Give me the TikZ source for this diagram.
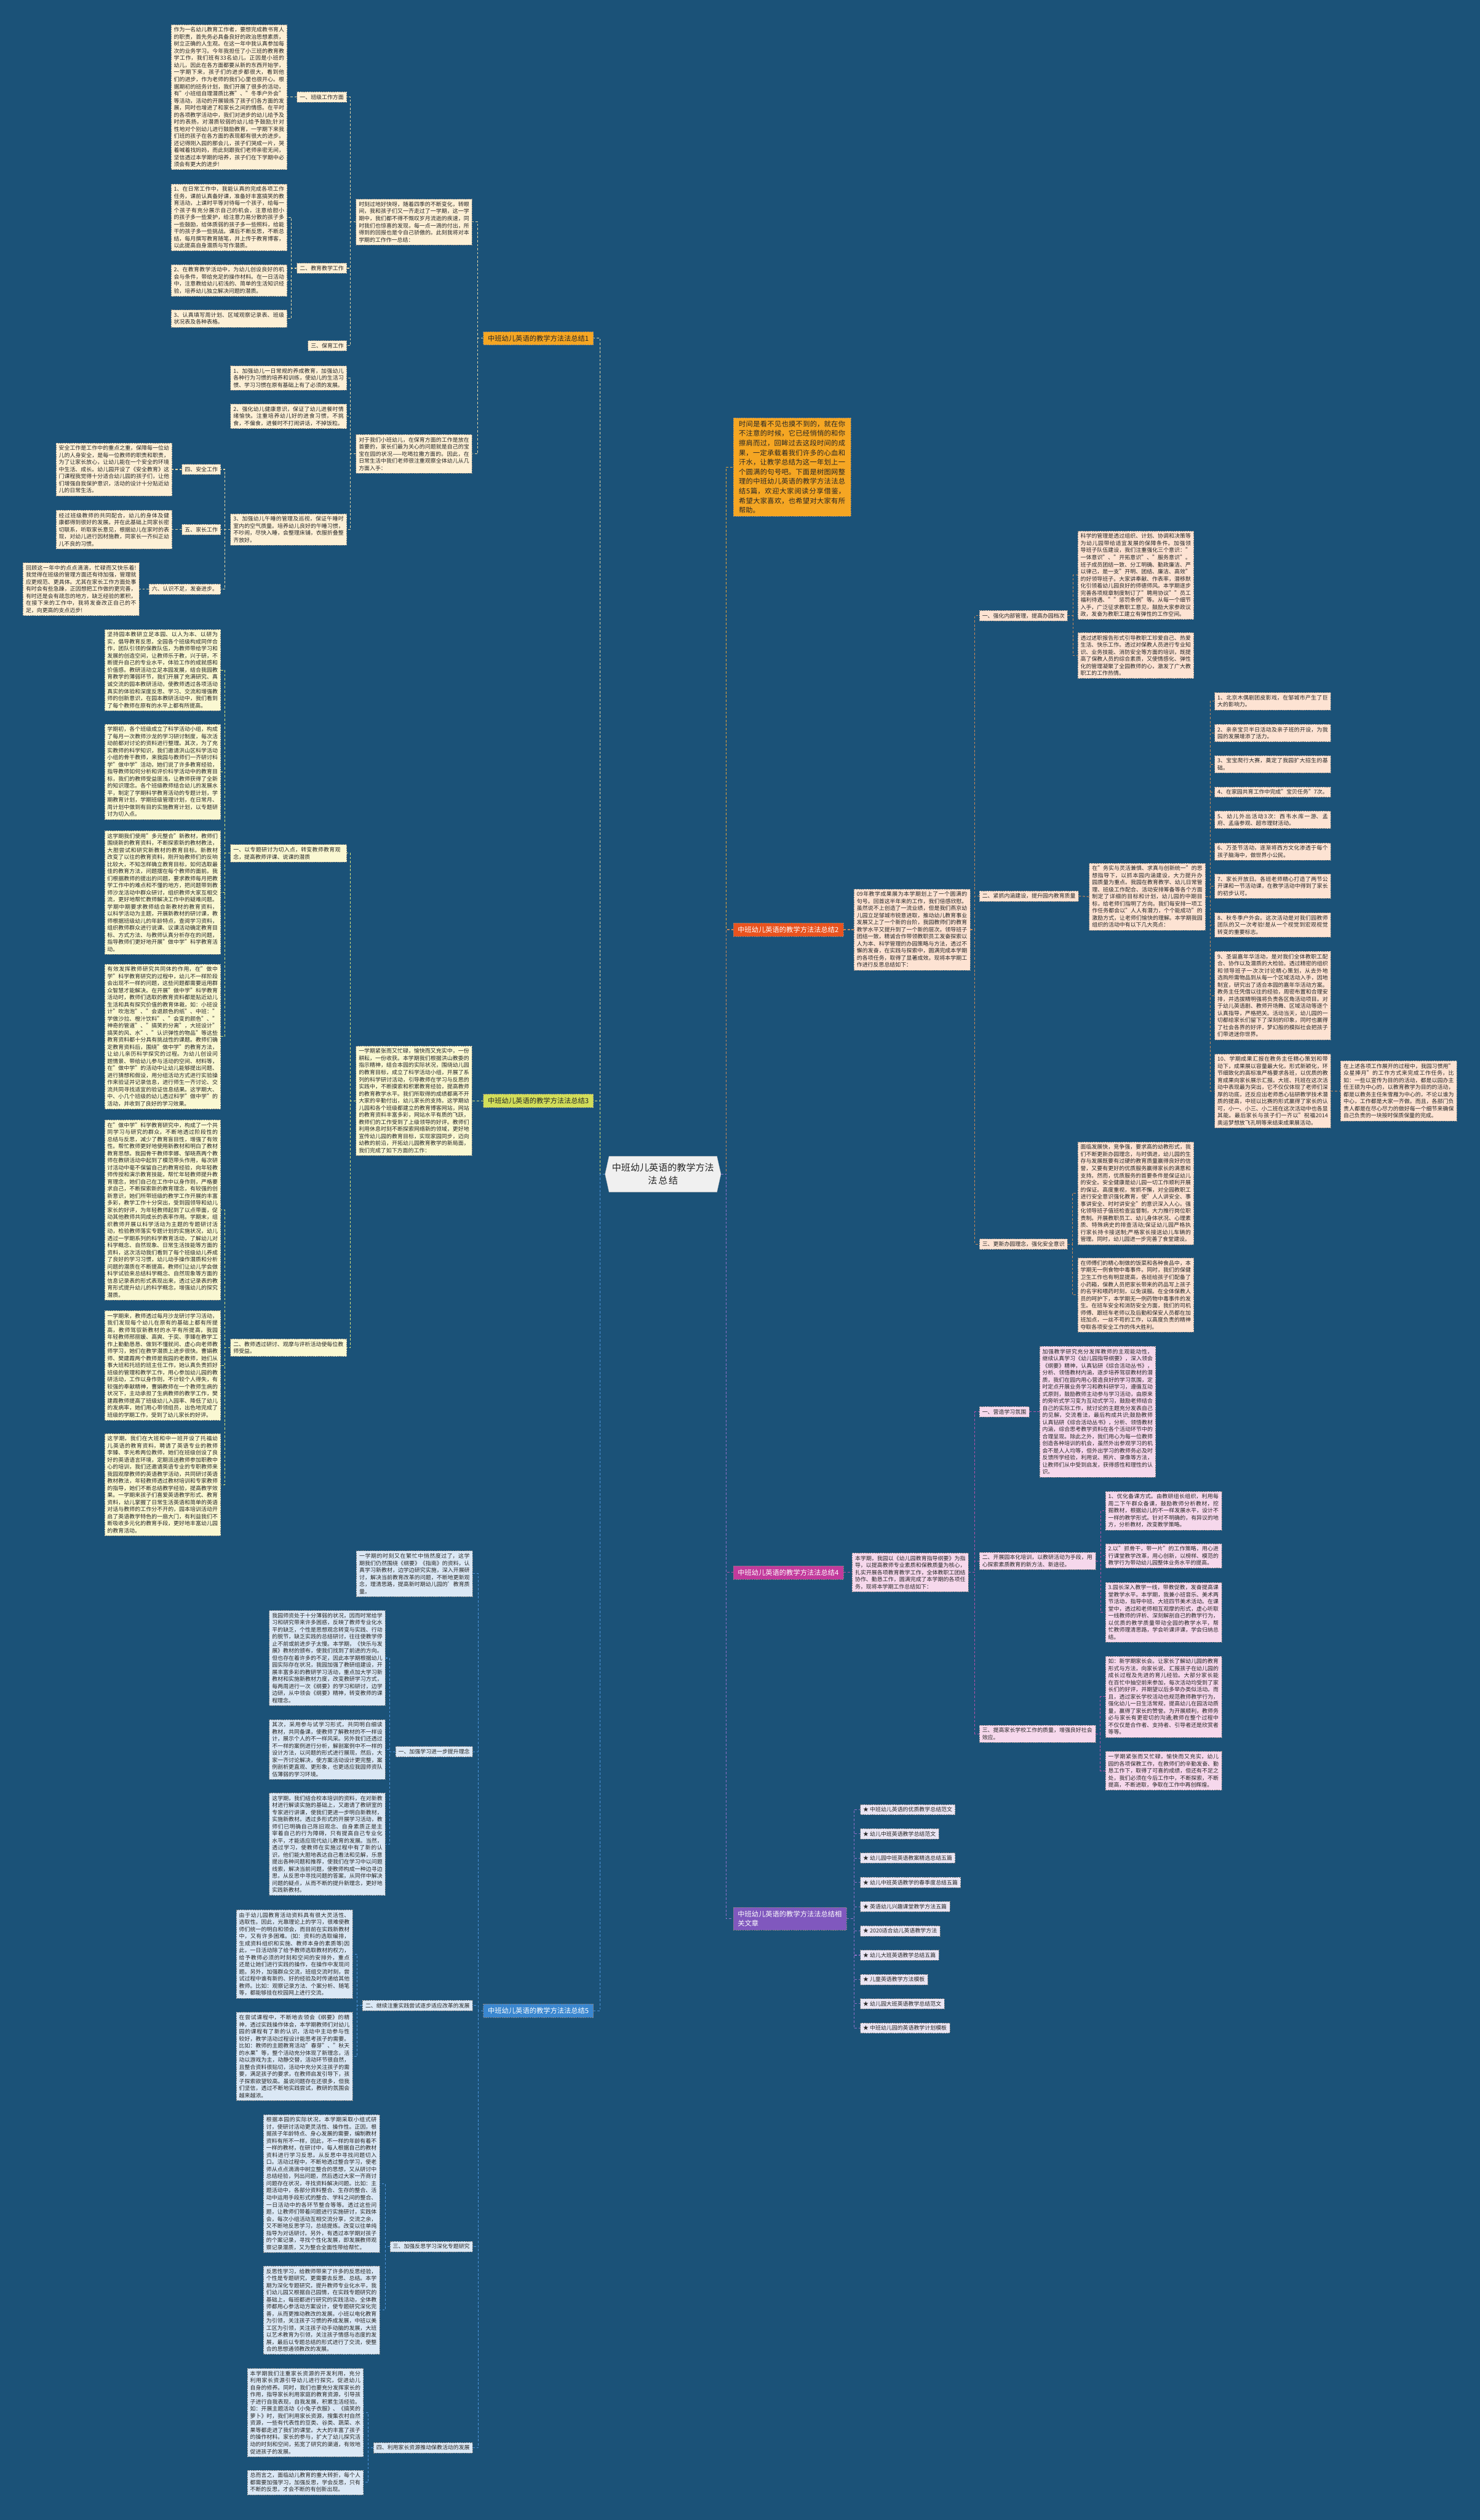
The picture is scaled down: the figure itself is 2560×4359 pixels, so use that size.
\documentclass[tikz,border=0pt]{standalone}
\usepackage{fontspec}
\setmainfont{Noto Sans CJK SC}
\XeTeXlinebreaklocale "zh"
\XeTeXlinebreakskip = 0pt plus 1pt
\usetikzlibrary{shapes.symbols}
\definecolor{bgblue}{RGB}{27,82,120}
\definecolor{fillA}{HTML}{FDF0D6}
\definecolor{fillC}{HTML}{FAF8D2}
\definecolor{fillE}{HTML}{DBE8F5}
\definecolor{fillB}{HTML}{FDE3D3}
\definecolor{fillD}{HTML}{F6D8EC}
\definecolor{fillF}{HTML}{EAE5F3}
\definecolor{brA}{HTML}{F5A623}
\definecolor{brC}{HTML}{D2DE5A}
\definecolor{brE}{HTML}{3A87D0}
\definecolor{brB}{HTML}{E8531F}
\definecolor{brD}{HTML}{C23A9C}
\definecolor{brF}{HTML}{8058BE}
\definecolor{lnA}{HTML}{E3D5A6}
\definecolor{lnC}{HTML}{D9E27A}
\definecolor{lnE}{HTML}{4D93D9}
\definecolor{lnB}{HTML}{C8885A}
\definecolor{lnD}{HTML}{B552A8}
\definecolor{lnF}{HTML}{9270C8}
\definecolor{lnI}{HTML}{E6A33A}
\newcommand{\cnsmall}{\fontsize{9.5pt}{12.25pt}\selectfont}
\newcommand{\cnmid}{\fontsize{12pt}{16.6pt}\selectfont}
\newcommand{\cnbig}{\fontsize{16pt}{22pt}\selectfont}

\begin{document}
\begin{tikzpicture}[x=1pt, y=-1pt,
  box/.style={draw=black!50, dash pattern=on 2.5pt off 1.5pt, line width=0.6pt,
              inner xsep=5pt, inner ysep=4.5pt, font=\cnsmall, text=black!85},
  para/.style={box, text width=191pt, align=justify},
  lab/.style={box, align=left},
  branch/.style={draw=black!50, dash pattern=on 2.5pt off 1.5pt, line width=0.6pt,
                 inner xsep=8pt, inner ysep=6pt, font=\cnmid},
  con/.style={dash pattern=on 4pt off 3pt, line width=1.1pt},
  kA/.style={fill=fillA}, kB/.style={fill=fillB}, kC/.style={fill=fillC},
  kD/.style={fill=fillD}, kE/.style={fill=fillE}, kF/.style={fill=fillF}
]
  \useasboundingbox (0,0) rectangle (2560,4359);
  \fill[bgblue] (0,0) rectangle (2560,4359);

  % Centre
  \node[shape=signal, signal to=west and east, signal pointer angle=155,
        fill=black!6, draw=black!25, text width=180pt, align=center,
        minimum height=62pt, font=\cnbig, text=black!85] (ctr) at (1147,2031)
        {中班幼儿英语的教学方法\\法总结};

  % Branch 1
  \node[branch, fill=brA, text=black!85, anchor=east] (b1) at (1027,585) {中班幼儿英语的教学方法法总结1};
  \node[para, kA, anchor=east] (b1i) at (817,384) {时刻过地好快呀，随着四季的不断变化，转眼间，我和孩子们又一齐走过了一学期，这一学期中，我们都不得不慨叹岁月流逝的疾速，同时我们也惊喜的发现，每一点一滴的付出，所得到的回报也是令自己骄傲的。此刻我将对本学期的工作作一总结：};
  \node[lab, kA, anchor=east] (l11) at (600,168) {一、班级工作方面};
  \node[para, kA, anchor=east] (p11) at (497,168) {作为一名幼儿教育工作者，要想完成教书育人的职责，首先务必具备良好的政治思想素质，树立正确的人生观。在这一年中我认真参加每次的业务学习。今年我担任了小三班的教育教学工作，我们班有33名幼儿，正因是小班的幼儿，因此在各方面都要从新的东西开始学，一学期下来，孩子们的进步都很大，看到他们的进步，作为老师的我们心里也很开心。根据期初的班务计划，我们开展了很多的活动，有"小班组自理潜质比赛"、"冬季户外会"等活动，活动的开展锻炼了孩子们各方面的发展，同时也增进了和家长之间的情感。在平时的各项教学活动中，我们对进步的幼儿给予及时的表扬，对潜质较弱的幼儿给予鼓励;针对性地对个别幼儿进行鼓励教育，一学期下来我们班的孩子在各方面的表现都有很大的进步。还记得刚入园的那会儿，孩子们哭成一片，哭着喊着找妈妈，而此刻跟我们老师亲密无间，坚信透过本学期的培养，孩子们在下学期中必须会有更大的进步!};
  \node[lab, kA, anchor=east] (l12) at (600,464) {二、教育教学工作};
  \node[para, kA, anchor=east] (p121) at (497,376) {1、在日常工作中，我能认真的完成各项工作任务，课前认真备好课，准备好丰富搞笑的教育活动，上课时平等对待每一个孩子，给每一个孩子有充分展示自己的机会，注意给胆小的孩子多一些爱护，给注意力易分散的孩子多一些鼓励，给体质弱的孩子多一些照料，给能干的孩子多一些挑战。课后不断反思，不断总结，每月撰写教育随笔，并上传于教育博客，以此提高自身潜质与写作潜质。};
  \node[para, kA, anchor=east] (p122) at (497,485) {2、在教育教学活动中，为幼儿创设良好的机会与条件，带给充足的操作材料。在一日活动中，注意教给幼儿初浅的、简单的生活知识经验，培养幼儿独立解决问题的潜质。};
  \node[para, kA, anchor=east] (p123) at (497,551) {3、认真填写周计划、区域观察记录表、班级状况表及各种表格。};
  \node[lab, kA, anchor=east] (l13) at (600,598) {三、保育工作};
  \node[para, kA, anchor=east] (b1j) at (817,785) {对于我们小班幼儿，在保育方面的工作是放在首要的，家长们最为关心的问题就是自己的宝宝在园的状况——吃喝拉撒方面的。因此，在日常生活中我们老师很注重观察全体幼儿从几方面入手：};
  \node[para, kA, anchor=east] (p131) at (600,654) {1、加强幼儿一日常规的养成教育，加强幼儿各种行为习惯的培养和训练，使幼儿的生活习惯、学习习惯在原有基础上有了必须的发展。};
  \node[para, kA, anchor=east] (p132) at (600,720) {2、强化幼儿健康意识，保证了幼儿进餐时情绪愉快。注重培养幼儿好的进食习惯，不挑食，不偏食，进餐时不打闹讲话，不掉饭粒。};
  \node[para, kA, anchor=east] (p133) at (600,916) {3、加强幼儿午睡的管理及巡视，保证午睡时室内的空气质量。培养幼儿良好的午睡习惯，不吵闹，尽快入睡，会整理床铺，衣服折叠整齐放好。};
  \node[lab, kA, anchor=east] (l14) at (382,812) {四、安全工作};
  \node[para, kA, anchor=east] (p14) at (298,812) {安全工作是工作中的重点之重，保障每一位幼儿的人身安全，是每一位教师的职责和职责，为了让家长放心，让幼儿能在一个安全的环境中生活、成长。幼儿园开设了《安全教育》这门课程我觉得十分适合幼儿园的孩子们，让他们增强自我保护意识，活动的设计十分贴近幼儿的日常生活。};
  \node[lab, kA, anchor=east] (l15) at (382,916) {五、家长工作};
  \node[para, kA, anchor=east] (p15) at (298,916) {经过班级教师的共同配合，幼儿的身体及健康都得到很好的发展。并在此基础上同家长密切联系，听取家长意见，根据幼儿在家时的表现，对幼儿进行因材施教，同家长一齐纠正幼儿不良的习惯。};
  \node[lab, kA, anchor=east] (l16) at (382,1019) {六、认识不足，发奋进步。};
  \node[para, kA, anchor=east] (p16) at (241,1019) {回顾这一年中的点点滴滴，忙碌而又快乐着!我觉得在班级的管理方面还有待加强，管理就应更规范、更具体。尤其在家长工作方面处事有时会有些急躁，正因想把工作做的更完善，有时还是会有疏忽的地方，缺乏经验的累积，在接下来的工作中，我将发奋改正自己的不足，向更高的支点迈步!};

  \draw[con, lnA] (ctr.west) -- ++(-8,0) |- (b1.east);
  \foreach \c in {b1i,b1j} \draw[con, lnA] (b1.west) -- ++(-9,0) |- (\c.east);
  \foreach \c in {l11,l12,l13} \draw[con, lnA] (b1i.west) -- ++(-9,0) |- (\c.east);
  \draw[con, lnA] (l11.west) -- (p11.east);
  \foreach \c in {p121,p122,p123} \draw[con, lnA] (l12.west) -- ++(-9,0) |- (\c.east);
  \foreach \c in {p131,p132,p133} \draw[con, lnA] (b1j.west) -- ++(-9,0) |- (\c.east);
  \foreach \c in {l14,l15,l16} \draw[con, lnA] (p133.west) -- ++(-9,0) |- (\c.east);
  \draw[con, lnA] (l14.west) -- (p14.east);
  \draw[con, lnA] (l15.west) -- (p15.east);
  \draw[con, lnA] (l16.west) -- (p16.east);

  % Branch 3
  \node[branch, fill=brC, text=black!85, anchor=east] (b3) at (1027,1904) {中班幼儿英语的教学方法法总结3};
  \node[para, kC, anchor=east] (b3i) at (817,1904) {一学期紧张而又忙碌，愉快而又充实中，一份耕耘，一份收获。本学期我们根据洪山教委的指示精神，结合本园的实际状况，围绕幼儿园的教育目标，成立了科学活动小组，开展了系列的科学研讨活动，引导教师在学习与反思的实践中，不断摸索和积累教育经验，提高教师的教育教学水平。我们所取得的成绩都离不开大家的辛勤付出，幼儿家长的支持。这学期幼儿园和各个班级都建立的教育博客网站，网站的教育资料丰富多彩，网站水平有质的飞跃，教师们的工作受到了上级领导的好评。教师们利用休息时刻不断探索网络新的领域，更好地宣传幼儿园的教育目标，实现家园同步，迈向幼教的前沿，开拓幼儿园教育教学的新局面，我们完成了如下方面的工作：};
  \node[lab, kC, text width=191pt, anchor=east] (l31) at (600,1476) {一、以专题研讨为切入点，转变教师教育观念，提高教师评课、说课的潜质};
  \node[para, kC, anchor=east] (p311) at (382,1159) {坚持园本教研立足本园、以人为本、以研为实，倡导教育反思，全园各个班级构成同伴合作，团队引领的保教队伍，为教师带给学习和发展的创造空间，让教师乐于教，兴于研，不断提升自己的专业水平，体验工作的成就感和价值感。教研活动立足本园发展，结合我园教育教学的薄弱环节，我们开展了充满研究、真诚交流的园本教研活动，使教师透过各项活动真实的体验和深度反思、学习、交流和增强教师的创新意识，在园本教研活动中，我们看到了每个教师在原有的水平上都有所提高。};
  \node[para, kC, anchor=east] (p312) at (382,1335) {学期初，各个班级成立了科学活动小组，构成了每月一次教师沙龙的学习研讨制度，每次活动前都对讨论的资料进行整理。其次，为了充实教师的科学知识，我们邀请洪山区科学活动小组的骨干教师，来我园与教师们一齐研讨科学"做中学"活动，她们说了许多教育经验，指导教师如何分析和评价科学活动中的教育目标，我们的教师受益匪浅，让教师获得了全新的知识理念。各个班级教师结合幼儿的发展水平，制定了学期科学教育活动的专题计划，学期教育计划，学期班级管理计划，在日常月、周计划中做到有目的实施教育计划，以专题研讨为切入点。};
  \node[para, kC, anchor=east] (p313) at (382,1544) {这学期我们使用"多元整合"新教材，教师们围绕新的教育资料，不断探索新的教材教法，大胆尝试和研究新教材的教育目标。新教材改变了以往的教育资料，刚开始教师们的反响比较大，不知怎样确立教育目标，如何选取最佳的教育方法，问题摆在每个教师的面前。我们根据教师的提出的问题，要求教师每月把教学工作中的难点和不懂的地方，把问题带到教师沙龙活动中群众研讨，组织教师大家互相交流，更好地帮忙教师解决工作中的疑难问题。学期中期要求教师结合新教材的教育资料，以科学活动为主题，开展新教材的研讨课，教师根据班级幼儿的年龄特点，查阅学习资料，组织教师群众进行说课、议课活动确定教育目标、方式方法、与教师认真分析存在的问题，指导教师们更好地开展"做中学"科学教育活动。};
  \node[para, kC, anchor=east] (p314) at (382,1793) {有效发挥教师研究共同体的作用，在"做中学"科学教育研究的过程中，幼儿不一样阶段会出现不一样的问题，这些问题都需要运用群众智慧才能解决。在开展"做中学"科学教育活动时，教师们选取的教育资料都是贴近幼儿生活和具有探究价值的教育体裁，如：小班设计"吹泡泡"、"会退颜色的纸"、中班："学做沙拉、橙汁饮料"、"会变的颜色"、"神奇的管道"、"搞笑的分离"，大班设计"搞笑的风、水"、"认识弹性的物品"等这些教育资料都十分具有挑战性的课题。教师们确定教育资料后，围绕"做中学"的教育方法，让幼儿亲历科学探究的过程。为幼儿创设问题情景、带给幼儿参与活动的空间、材料等，在"做中学"的活动中让幼儿能够提出问题、进行猜想和假设，用分组活动方式进行实验操作来验证并记录信息，进行师生一齐讨论、交流共同寻找适宜的验证信息结果。这学期大、中、小几个班级的幼儿透过科学"做中学"的活动，并收到了良好的学习效果。};
  \node[lab, kC, text width=191pt, anchor=east] (l32) at (600,2331) {二、教师透过研讨、观摩与评析活动使每位教师受益。};
  \node[para, kC, anchor=east] (p321) at (382,2093) {在"做中学"科学教育研究中，构成了一个共同学习与研究的群众，不断地透过阶段性的总结与反思，减少了教育盲目性，增强了有效性。帮忙教师更好地使用新教材和明白了教材教育思想。我园骨干教师李娜、邹晓燕两个教师在教研活动中起到了模范带头作用，每次研讨活动中毫不保留自己的教育经验，向年轻教师传授和演示教育技能，帮忙年轻教师提升教育理念，她们自己在工作中以身作则，严格要求自己，不断探索新的教育理念，有较强的创新意识，她们所带班级的教学工作开展的丰富多彩，教学工作十分突出，受到园领导和幼儿家长的好评，为年轻教师起到了以点带面，促动其他教师共同成长的表率作用。学期末，组织教师开展以科学活动为主题的专题研讨活动，检验教师落实专题计划的实施状况，幼儿透过一学期系列的科学教育活动，了解幼儿对科学概念、自然现象、日常生活技能等方面的资料，这次活动我们看到了每个班级幼儿养成了良好的学习习惯，幼儿动手操作潜质和分析问题的潜质在不断提高，教师们让幼儿学会做科学试验来总结科学概念、自然现象等方面的信息记录表的形式表现出来，透过记录表的教育形式提升幼儿的科学概念，增强幼儿的探究潜质。};
  \node[para, kC, anchor=east] (p322) at (382,2362) {一学期来，教师透过每月沙龙研讨学习活动，我们发现每个幼儿在原有的基础上都有所提高，教师驾驭新教材的水平有所提高，我园年轻教师邢丽媛、高爽、于奕、李臻在教学工作上勤勤恳恳、做到不懂就问、虚心向老师教师学习，她们在教学潜质上进步很快。曹娟教师、樊建霞两个教师是我园的老教师，她们从事大班和托班的班主任工作，她认真负责抓好班级的管理和教学工作，用心参加幼儿园的教研活动，工作以身作则，不计较个人得失，有较强的奉献精神，曹娟教师在一个教师生病的状况下，主动承担了生病教师的教学工作，樊建霞教师提高了班级幼儿入园率、降低了幼儿的发病率，她们用心带领组员，出色地完成了班级的学期工作，受到了幼儿家长的好评。};
  \node[para, kC, anchor=east] (p323) at (382,2568) {这学期，我们在大班和中一班开设了托福幼儿英语的教育资料，聘请了英语专业的教师李臻、李光希两位教师，她们在班级创设了良好的英语语言环境，定期派送教师参加职教中心的培训，我们还邀请英语专业的专职教师来我园观摩教师的英语教学活动，共同研讨英语教材教法，年轻教师透过教材培训和专家教师的指导，她们不断总结教学经验，提高教学效果。一学期来孩子们喜爱英语教学形式、教育资料，幼儿掌握了日常生活英语和简单的英语对话与教师的工作分不开的，园本培训活动开启了英语教学特色的一扇大门，有利益我们不断吸收多元化的教育手段，更好地丰富幼儿园的教育活动。};

  \draw[con, lnC] (ctr.west) -- ++(-8,0) |- (b3.east);
  \draw[con, lnC] (b3.west) -- (b3i.east);
  \foreach \c in {l31,l32} \draw[con, lnC] (b3i.west) -- ++(-9,0) |- (\c.east);
  \foreach \c in {p311,p312,p313,p314} \draw[con, lnC] (l31.west) -- ++(-9,0) |- (\c.east);
  \foreach \c in {p321,p322,p323} \draw[con, lnC] (l32.west) -- ++(-9,0) |- (\c.east);

  % Branch 5
  \node[branch, fill=brE, text=white, anchor=east] (b5) at (1027,3478) {中班幼儿英语的教学方法法总结5};
  \node[para, kE, anchor=east] (b5i) at (818,2722) {一学期的时刻又在繁忙中悄然度过了，这学期我们仍然围绕《纲要》《指南》的资料，认真学习新教材，边学边研究实施，深入开展研讨，解决当前教育改革的问题，不断地更新观念，理清思路，提高新时期幼儿园的'教育质量。};
  \node[lab, kE, anchor=east] (l51) at (818,3030) {一、加强学习进一步提升理念};
  \node[para, kE, anchor=east] (p511) at (667,2868) {我园师资处于十分薄弱的状况，因而时常给学习和研究带来许多困惑，反映了教师专业化水平的缺乏，个性是思想观念转变与实践、行动的脱节，缺乏实践的总结研讨，往往使教学停止不前或前进步子太慢。本学期，《快乐与发展》教材的颁布，使我们找到了前进的方向。但也存在着许多的不足，因此本学期根据幼儿园实际存在状况，我园加强了教研组建设，开展丰富多彩的教研学习活动，重点加大学习新教材和实施新教材力度，改变教研学习方式，每两周进行一次《纲要》的学习和研讨，边学边研，从中领会《纲要》精神，转变教师的课程理念。};
  \node[para, kE, anchor=east] (p512) at (667,3026) {其次，采用参与试学习形式，共同明白细读教材，共同备课，使教师了解教材的不一样设计，展示个人的不一样风采。另外我们还透过不一样的案例进行分析，解剖案例中不一样的设计方法，以问题的形式进行展现，然后，大家一齐讨论解决，使方案活动设计更完整，案例剖析更直观、更形象，也更适应我园师资队伍薄弱的学习环境。};
  \node[para, kE, anchor=east] (p513) at (667,3190) {这学期，我们结合校本培训的资料，在对新教材进行解读实施的基础上，又邀请了教研室的专家进行讲课，使我们更进一步明白新教材，实施新教材。透过多形式的开展学习活动，教师们已明确自己陈旧观念、自身素质正是主宰着自己的行为障碍，只有提高自己专业化水平，才能适应现代幼儿教育的发展。当然，透过学习，使教师在实施过程中有了新的认识，他们能大胆地表达自己看法和见解，乐意提出各种问题和推荐，使我们在学习中以问题线索，解决当前问题，使教师构成一种边寻边思，从反思中寻找问题的答案，从同伴中解决问题的疑点，从而不断的提升新理念，更好地实践新教材。};
  \node[lab, kE, anchor=east] (l52) at (818,3469) {二、继续注重实践尝试逐步适应改革的发展};
  \node[para, kE, anchor=east] (p521) at (610,3380) {由于幼儿园教育活动资料具有很大灵活性、选取性。因此，光靠理论上的学习，很难使教师们统一的明白和领会，而目前在实践新教材中，又有许多困难。(如：资料的选取编排，生成资料组织和实施、教师本身的素质等)因此，一日活动除了给予教师选取教材的权力，给予教师必须的时刻和空间的安排外，重点还是让她们进行实践的操作，在操作中发现问题。另外，加强群众交流，班组交流时刻，尝试过程中谁有新的、好的经验及时传递给其他教师。比如：观察记录方法、个案分析、随笔等，都能够挂在校园网上进行交流。};
  \node[para, kE, anchor=east] (p522) at (610,3557) {在尝试课程中，不断地去领会《纲要》的精神，透过实践操作体会，本学期教师们对幼儿园的课程有了新的认识，活动中主动参与性较好，教学活动过程设计能思考孩子的需要。比如：教师的主题教育活动"春芽"、"秋天的水果"等，整个活动充分体现了新理念，活动以游戏为主，动静交替，活动环节很自然，且整合资料很贴切，活动中充分关注孩子的需要，满足孩子的要求，在教师启发引导下，孩子探索欲望较高。虽说问题存在还很多，但我们坚信，透过不断地实践尝试，教研的氛围会越来越浓。};
  \node[lab, kE, anchor=east] (l53) at (818,3886) {三、加强反思学习深化专题研究};
  \node[para, kE, anchor=east] (p531) at (657,3777) {根据本园的实际状况，本学期采取小组式研讨，使研讨活动更灵活性、操作性。正因，根据孩子年龄特点、身心发展的需要，编制教材资料有所不一样，因此，不一样的年龄有着不一样的教材，在研讨中，每人根据自己的教材资料进行学习反思，从反思中寻找问题切入口。活动过程中，不断地透过整合学习，使老师从点点滴滴中树立整合的思想，又从研讨中总结经验，列出问题，然后透过大家一齐商讨问题存在状况，寻找资料解决问题。比如：主题活动中，各部分资料整合、生存的整合、活动中运用手段形式的整合、学科之间的整合、一日活动中的各环节整合等等。透过这些问题，让教师们带着问题进行实施研讨，实践体会，每次小组活动互相交流分享，交流之余，又不断地反思学习，总结提炼。改变以往单纯指导为对话研讨。另外，有透过本学期对孩子的个案记录，寻找个性化发展，即发展教师观察记录潜质，又为整合全面性带给帮忙。};
  \node[para, kE, anchor=east] (p532) at (657,3996) {反思性学习，给教师带来了许多的反思经验，个性是专题研究，更需要去反思、总结。本学期为深化专题研究，提升教师专业化水平，我们幼儿园又根据自己园情，在实践专题研究的基础上，每班都进行研究的实践活动，全体教师都用心参活动方案设计，使专题研究深化完善，从而更推动教改的发展。小班以电化教育为引领，关注孩子习惯的养成发展，中班以美工区为引领，关注孩子动手动脑的发展，大班以艺术教育为引领，关注孩子情感与态度的发展，最后以专题总结的形式进行了交流，使整合的思想通领教改的发展。};
  \node[lab, kE, anchor=east] (l54) at (818,4234) {四、利用家长资源推动保教活动的发展};
  \node[para, kE, anchor=east] (p541) at (629,4173) {本学期我们注重家长资源的开发利用，充分利用家长资源引导幼儿进行探究，促进幼儿自身的修养。同时，我们也要充分发挥家长的作用，指导家长利用家庭的教育资源，引导孩子进行自我表现，自我发展，积累生活经验。如：开展主题活动《小兔子衣服》、《搞笑的萝卜》时，我们利用家长资源，搜集农村自然资源，一些有代表性的豆类、谷类、蔬菜、水果等都走进了我们的课堂。大大的丰富了孩子的操作材料。家长的参与，扩大了幼儿探究活动的时刻和空间，拓宽了研究的渠道，有效地促进孩子的发展。};
  \node[para, kE, anchor=east] (p542) at (629,4294) {总而言之，面临幼儿教育的重大转折，每个人都需要加强学习，加强反思，学会反思，只有不断的反思，才会不断的有创新出现。};

  \draw[con, lnE] (ctr.west) -- ++(-8,0) |- (b5.east);
  \foreach \c in {b5i,l51,l52,l53,l54} \draw[con, lnE] (b5.west) -- ++(-8,0) |- (\c.east);
  \foreach \c in {p511,p512,p513} \draw[con, lnE] (l51.west) -- ++(-10,0) |- (\c.east);
  \foreach \c in {p521,p522} \draw[con, lnE] (l52.west) -- ++(-9,0) |- (\c.east);
  \foreach \c in {p531,p532} \draw[con, lnE] (l53.west) -- ++(-8,0) |- (\c.east);
  \foreach \c in {p541,p542} \draw[con, lnE] (l54.west) -- ++(-9,0) |- (\c.east);

  % Intro
  \node[branch, fill=brA, text=black!85, text width=184pt, align=justify,
        inner xsep=10pt, inner ysep=5pt, anchor=west] (intro) at (1268,808) {时间是看不见也摸不到的，就在你不注意的时候，它已经悄悄的和你擦肩而过，回眸过去这段时间的成果，一定承载着我们许多的心血和汗水，让教学总结为这一年划上一个圆满的句号吧。下面是树图网整理的中班幼儿英语的教学方法法总结5篇，欢迎大家阅读分享借鉴，希望大家喜欢，也希望对大家有所帮助。};
  \draw[con, lnI] (ctr.east) -- ++(9,0) |- (intro.west);

  % Branch 2
  \node[branch, fill=brB, text=white, anchor=west] (b2) at (1268,1608) {中班幼儿英语的教学方法法总结2};
  \node[para, kB, anchor=west] (b2i) at (1477,1608) {09年教学成果展为本学期划上了一个圆满的句号。回首这半年来的工作，我们倍感欣慰。虽然说不上创造了一流业绩，但是我们燕京幼儿园立足邹城市锐意进取，推动幼儿教育事业发展又上了一个新的台阶，我园教师们的教育教学水平又提升到了一个新的层次。领导班子团结一致，精诚合作带领教职员工发奋探索以人为本、科学管理的办园策略与方法，透过不懈的发奋，在实践与探索中，圆满完成本学期的各项任务，取得了显著成效。现将本学期工作进行反思总结如下：};
  \node[lab, kB, anchor=west] (l21) at (1694,1065) {一、强化内部管理，提高办园档次};
  \node[para, kB, anchor=west] (p211) at (1864,995) {科学的管理是透过组织、计划、协调和决策等为幼儿园带给适宜发展的保障条件。加强领导班子队伍建设，我们注重强化三个意识："一体意识"、"开拓意识"、"服务意识"。班子成员团结一致、分工明确、勤政廉洁、严以律己，是一支"开明、团结、廉洁、高效"的好领导班子。大家讲奉献、作表率，潜移默化引领着幼儿园良好的师德师风。本学期逐步完善各项规章制度制订了"聘用协议""员工福利待遇、""惩罚条例"等。从每一个细节入手，广泛征求教职工意见，鼓励大家参政议政，发奋为教职工建立有弹性的工作空间。};
  \node[para, kB, anchor=west] (p212) at (1864,1134) {透过述职报告形式引导教职工珍爱自己、热爱生活、快乐工作。透过对保教人员进行专业知识、业务技能、消防安全等方面的培训，既提高了保教人员的综合素质，又使情感化、弹性化的管理凝聚了全园教师的心，激发了广大教职工的工作热情。};
  \node[lab, kB, anchor=west] (l22) at (1694,1550) {二、紧抓内涵建设，提升园内教育质量};
  \node[para, kB, anchor=west] (p22) at (1884,1551) {在"务实与灵活兼惧、求真与创新统一"的思想指导下，以抓本园内涵建设，大力提升办园质量为重点。我园在教育教学、幼儿日常管理、班级工作配合、活动安排筹备等各个方面制定了详细的目标和计划，幼儿园的中期目标，给老师们指明了方向。我们每安排一项工作任务都会以"人人有潜力，个个能成功"的激励方式，让老师们愉快的理解。本学期我园组织的活动中有以下几大亮点：};
  \node[para, kB, anchor=west] (q1) at (2101,1213) {1、北京木偶剧团皮影戏，在邹城市产生了巨大的影响力。};
  \node[para, kB, anchor=west] (q2) at (2101,1268) {2、亲亲宝贝半日活动及亲子班的开设，为我园的发展增添了活力。};
  \node[para, kB, anchor=west] (q3) at (2101,1322) {3、宝宝爬行大赛，奠定了我园扩大招生的基础。};
  \node[lab, kB, anchor=west] (q4) at (2101,1370) {4、在家园共育工作中完成"宝贝任务"7次。};
  \node[para, kB, anchor=west] (q5) at (2101,1418) {5、幼儿外出活动3次：西韦水库一游、孟府、孟庙参观、超市理财活动。};
  \node[para, kB, anchor=west] (q6) at (2101,1473) {6、万圣节活动，逐渐将西方文化渗透于每个孩子脑海中，做世界小公民。};
  \node[para, kB, anchor=west] (q7) at (2101,1533) {7、家长开放日。各班老师精心打造了两节公开课和一节活动课，在教学活动中得到了家长的初步认可。};
  \node[para, kB, anchor=west] (q8) at (2101,1600) {8、秋冬季户外会。这次活动是对我们园教师团队的又一次考验!是从一个视觉到宏观视觉转变的重要标志。};
  \node[para, kB, anchor=west] (q9) at (2101,1722) {9、圣诞嘉年华活动，是对我们全体教职工配合、协作以及潜质的大检验。透过精密的组织和领导班子一次次讨论精心策划，从去外地选购所需物品到从每一个区域活动入手，因地制宜，研究出了适合本园的嘉年华活动方案。教务主任凭借以往的经验，周密布置和合理安排，并选拔精明强将负责各区角活动项目。对于幼儿英语剧、教师开场舞、区域活动等逐个认真指导，严格把关。活动当天，幼儿园的一切都给家长们留下了深刻的印象，同时也赢得了社会各界的好评，梦幻般的模拟社会把孩子们带进迷你世界。};
  \node[para, kB, anchor=west] (q10) at (2101,1887) {10、学期成果汇报在教务主任精心策划和带动下，成果展以容量最大化，形式新颖化，环节细致化的高标准严格要求各班，以优质的教育成果向家长展示汇报。大班、托班在这次活动中表现最为突出，它不仅仅体现了老师们深厚的功底，还反应出老师悉心钻研教学技术潜质的提高，中班以比赛的形式赢得了家长的认可，小一、小三、小二班在这次活动中也各显其能。最后家长与孩子们一齐以"祝福2014奥运梦想放飞孔明等来结束成果展活动。};
  \node[para, kB, anchor=west] (q10c) at (2319,1887) {在上述各项工作展开的过程中，我园习惯用"众星捧月"的工作方式来完成工作任务，比如：一些以宣传为目的的活动，都是以园办主任王硕为中心的，以教育教学为目的的活动，都是以教务主任朱雪雁为中心的，不论以谁为中心，工作都是大家一齐做。而且，各部门负责人都是在尽心尽力的做好每一个细节来确保自己负责的一块按时保质保量的完成。};
  \node[lab, kB, anchor=west] (l23) at (1694,2152) {三、更新办园理念，强化安全意识};
  \node[para, kB, anchor=west] (p231) at (1864,2064) {面临发展快，竞争强，要求高的幼教形式，我们不断更新办园理念，与时俱进，幼儿园的生存与发展既要有过硬的教育质量赢得良好的信誉，又要有更好的优质服务赢得家长的满意和支持。然而，优质服务的首要条件是保证幼儿的安全。安全健康是幼儿园一切工作顺利开展的保证。高度重视，常抓不懈，对全园教职工进行安全意识强化教育，使"人人讲安全、事事讲安全、时时讲安全"的意识深入人心。强化领导班子值班检查监督制，大力推行岗位职责制。开展教职员工、幼儿身体状况、心理素质、特殊病史的排查活动;保证幼儿园严格执行家长持卡接送制;严格家长接送幼儿车辆的管理。同时，幼儿园进一步完善了食堂建设。};
  \node[para, kB, anchor=west] (p232) at (1864,2240) {在师傅们的精心制做的饭菜和各种食品中，本学期无一例食物中毒事件。同时，我们的保健卫生工作也有明显提高，各班给孩子们配备了小药箱，保教人员把家长带来的药品写上孩子的名字和喂药时刻，以免误服。在全体保教人员的呵护下，本学期无一例药物中毒事件的发生。在班车安全和消防安全方面，我们的司机师傅、跟班车老师以及后勤和保安人员都在加班加点，一丝不苟的工作，以高度负责的精神夺取各项安全工作的伟大胜利。};

  \draw[con, lnB] (ctr.east) -- ++(9,0) |- (b2.west);
  \draw[con, lnB] (b2.east) -- (b2i.west);
  \foreach \c in {l21,l22,l23} \draw[con, lnB] (b2i.east) -- ++(8,0) |- (\c.west);
  \foreach \c in {p211,p212} \draw[con, lnB] (l21.east) -- ++(9,0) |- (\c.west);
  \draw[con, lnB] (l22.east) -- (p22.west);
  \foreach \c in {q1,q2,q3,q4,q5,q6,q7,q8,q9,q10} \draw[con, lnB] (p22.east) -- ++(8,0) |- (\c.west);
  \draw[con, lnB] (q10.east) -- (q10c.west);
  \foreach \c in {p231,p232} \draw[con, lnB] (l23.east) -- ++(8,0) |- (\c.west);

  % Branch 4
  \node[branch, fill=brD, text=white, anchor=west] (b4) at (1268,2720) {中班幼儿英语的教学方法法总结4};
  \node[para, kD, anchor=west] (b4i) at (1474,2720) {本学期，我园以《幼儿园教育指导纲要》为指导，以提高教师专业素质和保教质量为核心，扎实开展各项教育教学工作，全体教职工团结协作、勤恳工作，圆满完成了本学期的各项任务，现将本学期工作总结如下：};
  \node[lab, kD, anchor=west] (l41) at (1694,2442) {一、营造学习氛围};
  \node[para, kD, anchor=west] (p41) at (1798,2442) {加强教学研究充分发挥教师的主观能动性，继续认真学习《幼儿园指导纲要》，深入领会《纲要》精神，认真钻研《综合活动丛书》，分析、领悟教材内涵，逐步培养驾驭教材的潜质，我们在园内用心营造良好的学习氛围，定时定点开展业务学习和教科研学习，遵循互动式原则，鼓励教师主动参与学习活动，由原来的旁听式学习变为互动式学习，鼓励老师结合自己的实际工作，就讨论的主题充分发表自己的见解，交流看法，最后构成共识;鼓励教师认真钻研《综合活动丛书》，分析、领悟教材内涵，综合思考教学资料在各个活动环节中的合理呈现。除此之外，我们用心为每一位教师创造各种培训的机会，虽然外出参观学习的机会不是人人均等，但外出学习的教师务必及时反馈所学经验，利用说、照片、录像等方法，让教师们从中受到启发，获得感性和理性的认识。};
  \node[lab, kD, text width=191pt, anchor=west] (l42) at (1694,2700) {二、开展园本化培训，以教研活动为手段，用心探索素质教育的新方法、新途径。};
  \node[para, kD, anchor=west] (p421) at (1912,2613) {1、优化备课方式。由教研组长组织，利用每周二下午群众备课，鼓励教师分析教材，挖掘教材，根据幼儿的不一样发展水平，设计不一样的教学形式。针对不明确的，有异议的地方，分析教材，改变教学策略。};
  \node[para, kD, anchor=west] (p422) at (1912,2691) {2.以"抓骨干，带一片"的工作策略，用心进行课堂教学改革，用心创新，以榜样、模范的教学行为带动幼儿园整体业务水平的提高。};
  \node[para, kD, anchor=west] (p423) at (1912,2789) {3.园长深入教学一线，带教促教，发奋提高课堂教学水平。本学期，我兼小班音乐、美术两节活动，指导中班、大班四节美术活动。在课堂中，透过和老师相互观摩的形式，虚心听取一线教师的评析、深刻解剖自己的教学行为，以优质的教学质量带动全园的教学水平，帮忙教师理清思路，学会听课评课，学会归纳总结。};
  \node[lab, kD, text width=191pt, anchor=west] (l43) at (1694,2999) {三、提高家长学校工作的质量，增强良好社会效应。};
  \node[para, kD, anchor=west] (p431) at (1912,2935) {如：新学期家长会。让家长了解幼儿园的教育形式与方法，向家长说、汇报孩子在幼儿园的成长过程及先进的育儿经验。大部分家长能在百忙中抽空前来参加，每次活动均受到了家长们的好评，并期望以后多举办类似活动。而且，透过家长学校活动也规范教师教学行为，强化幼儿一日生活常规，提高幼儿在园活动质量，赢得了家长的赞誉。为开展顺利，教师务必与家长有更密切的沟通;教师在整个过程中不仅仅是合作者、支持者、引导者还是欣赏者等等。};
  \node[para, kD, anchor=west] (p432) at (1912,3063) {一学期紧张而又忙碌，愉快而又充实，幼儿园的各项保教工作，在教师们的辛勤发奋、勤恳工作下，取得了可喜的成绩，但还有不足之处，我们必须在今后工作中，不断探索，不断提高，不断进取，争取在工作中再创辉煌。};

  \draw[con, lnD] (ctr.east) -- ++(9,0) |- (b4.west);
  \draw[con, lnD] (b4.east) -- (b4i.west);
  \foreach \c in {l41,l42,l43} \draw[con, lnD] (b4i.east) -- ++(11,0) |- (\c.west);
  \draw[con, lnD] (l41.east) -- (p41.west);
  \foreach \c in {p421,p422,p423} \draw[con, lnD] (l42.east) -- ++(9,0) |- (\c.west);
  \foreach \c in {p431,p432} \draw[con, lnD] (l43.east) -- ++(8,0) |- (\c.west);

  % Branch 6
  \node[branch, fill=brF, text=white, text width=180pt, align=left, anchor=west] (b6) at (1268,3319) {中班幼儿英语的教学方法法总结相\\关文章};
  \foreach \t [count=\i] in {中班幼儿英语的优质教学总结范文, 幼儿中班英语教学总结范文,
      幼儿园中班英语教案精选总结五篇, 幼儿中班英语教学的春季度总结五篇,
      英语幼儿兴趣课堂教学方法五篇, 2020适合幼儿英语教学方法, 幼儿大班英语教学总结五篇,
      儿童英语教学方法模板, 幼儿园大班英语教学总结范文, 中班幼儿园的英语教学计划模板} {
    \node[lab, kF, anchor=west] (r\i) at (1488,3088+42*\i) {★ \t};
    \draw[con, lnF] (b6.east) -- ++(13,0) |- (r\i.west);
  }
  \draw[con, lnF] (ctr.east) -- ++(9,0) |- (b6.west);
\end{tikzpicture}
\end{document}
